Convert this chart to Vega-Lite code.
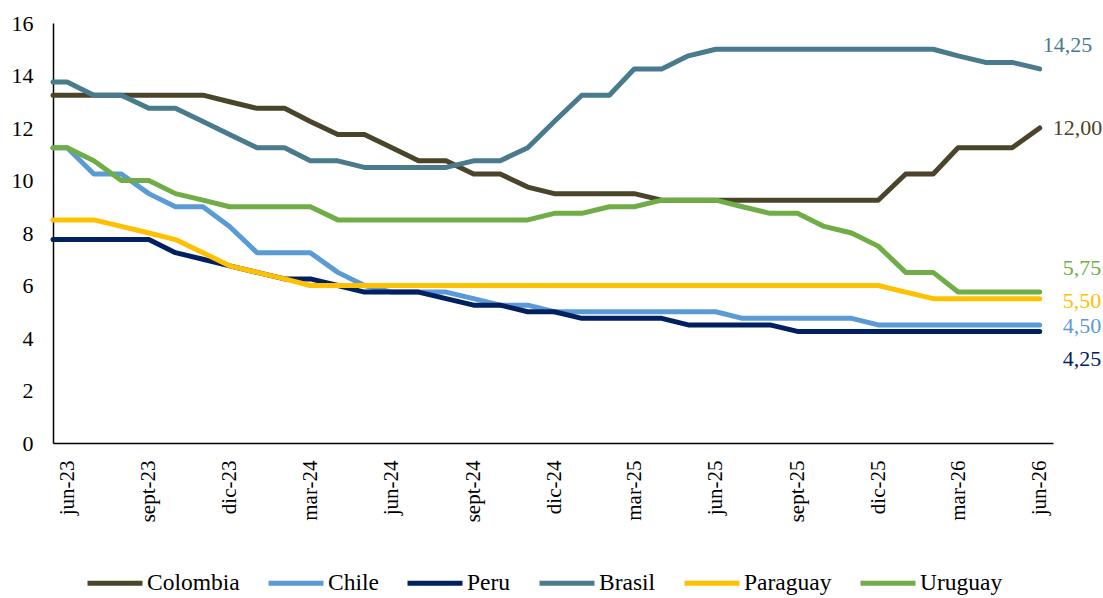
{
"$schema": "https://vega.github.io/schema/vega-lite/v6.json",
"width": 1000, "height": 420,
"autosize": {"type": "none"},
"padding": {"left": 53, "top": 23, "right": 50, "bottom": 155},
"background": "white",
"config": {
  "view": {"stroke": null},
  "font": "Liberation Serif",
  "locale": {"number": {"decimal": ",", "thousands": ".", "grouping": [3], "currency": ["", ""]}},
  "axisX": {"labelFont": "Liberation Serif", "labelFontSize": 21, "labelColor": "black", "labelAngle": 270, "labelPadding": 17, "ticks": false, "grid": false, "domainColor": "black", "domainWidth": 1.5, "title": null},
  "axisY": {"labelFont": "Liberation Serif", "labelFontSize": 22, "labelColor": "black", "labelPadding": 20, "ticks": false, "grid": false, "domainColor": "black", "domainWidth": 1.5, "title": null}
},
"data": {"format": {"parse": {"fecha": "utc:'%Y-%m-%d'"}}, "values": [
{"fecha":"2023-05-16","pais":"Colombia","tasa":13.25},
{"fecha":"2023-06-01","pais":"Colombia","tasa":13.25},
{"fecha":"2023-07-01","pais":"Colombia","tasa":13.25},
{"fecha":"2023-08-01","pais":"Colombia","tasa":13.25},
{"fecha":"2023-09-01","pais":"Colombia","tasa":13.25},
{"fecha":"2023-10-01","pais":"Colombia","tasa":13.25},
{"fecha":"2023-11-01","pais":"Colombia","tasa":13.25},
{"fecha":"2023-12-01","pais":"Colombia","tasa":13.0},
{"fecha":"2024-01-01","pais":"Colombia","tasa":12.75},
{"fecha":"2024-02-01","pais":"Colombia","tasa":12.75},
{"fecha":"2024-03-01","pais":"Colombia","tasa":12.25},
{"fecha":"2024-04-01","pais":"Colombia","tasa":11.75},
{"fecha":"2024-05-01","pais":"Colombia","tasa":11.75},
{"fecha":"2024-06-01","pais":"Colombia","tasa":11.25},
{"fecha":"2024-07-01","pais":"Colombia","tasa":10.75},
{"fecha":"2024-08-01","pais":"Colombia","tasa":10.75},
{"fecha":"2024-09-01","pais":"Colombia","tasa":10.25},
{"fecha":"2024-10-01","pais":"Colombia","tasa":10.25},
{"fecha":"2024-11-01","pais":"Colombia","tasa":9.75},
{"fecha":"2024-12-01","pais":"Colombia","tasa":9.5},
{"fecha":"2025-01-01","pais":"Colombia","tasa":9.5},
{"fecha":"2025-02-01","pais":"Colombia","tasa":9.5},
{"fecha":"2025-03-01","pais":"Colombia","tasa":9.5},
{"fecha":"2025-04-01","pais":"Colombia","tasa":9.25},
{"fecha":"2025-05-01","pais":"Colombia","tasa":9.25},
{"fecha":"2025-06-01","pais":"Colombia","tasa":9.25},
{"fecha":"2025-07-01","pais":"Colombia","tasa":9.25},
{"fecha":"2025-08-01","pais":"Colombia","tasa":9.25},
{"fecha":"2025-09-01","pais":"Colombia","tasa":9.25},
{"fecha":"2025-10-01","pais":"Colombia","tasa":9.25},
{"fecha":"2025-11-01","pais":"Colombia","tasa":9.25},
{"fecha":"2025-12-01","pais":"Colombia","tasa":9.25},
{"fecha":"2026-01-01","pais":"Colombia","tasa":10.25},
{"fecha":"2026-02-01","pais":"Colombia","tasa":10.25},
{"fecha":"2026-03-01","pais":"Colombia","tasa":11.25},
{"fecha":"2026-04-01","pais":"Colombia","tasa":11.25},
{"fecha":"2026-05-01","pais":"Colombia","tasa":11.25},
{"fecha":"2026-06-01","pais":"Colombia","tasa":12.0},

{"fecha":"2023-05-16","pais":"Chile","tasa":11.25},
{"fecha":"2023-06-01","pais":"Chile","tasa":11.25},
{"fecha":"2023-07-01","pais":"Chile","tasa":10.25},
{"fecha":"2023-08-01","pais":"Chile","tasa":10.25},
{"fecha":"2023-09-01","pais":"Chile","tasa":9.5},
{"fecha":"2023-10-01","pais":"Chile","tasa":9.0},
{"fecha":"2023-11-01","pais":"Chile","tasa":9.0},
{"fecha":"2023-12-01","pais":"Chile","tasa":8.25},
{"fecha":"2024-01-01","pais":"Chile","tasa":7.25},
{"fecha":"2024-02-01","pais":"Chile","tasa":7.25},
{"fecha":"2024-03-01","pais":"Chile","tasa":7.25},
{"fecha":"2024-04-01","pais":"Chile","tasa":6.5},
{"fecha":"2024-05-01","pais":"Chile","tasa":6.0},
{"fecha":"2024-06-01","pais":"Chile","tasa":5.75},
{"fecha":"2024-07-01","pais":"Chile","tasa":5.75},
{"fecha":"2024-08-01","pais":"Chile","tasa":5.75},
{"fecha":"2024-09-01","pais":"Chile","tasa":5.5},
{"fecha":"2024-10-01","pais":"Chile","tasa":5.25},
{"fecha":"2024-11-01","pais":"Chile","tasa":5.25},
{"fecha":"2024-12-01","pais":"Chile","tasa":5.0},
{"fecha":"2025-01-01","pais":"Chile","tasa":5.0},
{"fecha":"2025-02-01","pais":"Chile","tasa":5.0},
{"fecha":"2025-03-01","pais":"Chile","tasa":5.0},
{"fecha":"2025-04-01","pais":"Chile","tasa":5.0},
{"fecha":"2025-05-01","pais":"Chile","tasa":5.0},
{"fecha":"2025-06-01","pais":"Chile","tasa":5.0},
{"fecha":"2025-07-01","pais":"Chile","tasa":4.75},
{"fecha":"2025-08-01","pais":"Chile","tasa":4.75},
{"fecha":"2025-09-01","pais":"Chile","tasa":4.75},
{"fecha":"2025-10-01","pais":"Chile","tasa":4.75},
{"fecha":"2025-11-01","pais":"Chile","tasa":4.75},
{"fecha":"2025-12-01","pais":"Chile","tasa":4.5},
{"fecha":"2026-01-01","pais":"Chile","tasa":4.5},
{"fecha":"2026-02-01","pais":"Chile","tasa":4.5},
{"fecha":"2026-03-01","pais":"Chile","tasa":4.5},
{"fecha":"2026-04-01","pais":"Chile","tasa":4.5},
{"fecha":"2026-05-01","pais":"Chile","tasa":4.5},
{"fecha":"2026-06-01","pais":"Chile","tasa":4.5},

{"fecha":"2023-05-16","pais":"Peru","tasa":7.75},
{"fecha":"2023-06-01","pais":"Peru","tasa":7.75},
{"fecha":"2023-07-01","pais":"Peru","tasa":7.75},
{"fecha":"2023-08-01","pais":"Peru","tasa":7.75},
{"fecha":"2023-09-01","pais":"Peru","tasa":7.75},
{"fecha":"2023-10-01","pais":"Peru","tasa":7.25},
{"fecha":"2023-11-01","pais":"Peru","tasa":7.0},
{"fecha":"2023-12-01","pais":"Peru","tasa":6.75},
{"fecha":"2024-01-01","pais":"Peru","tasa":6.5},
{"fecha":"2024-02-01","pais":"Peru","tasa":6.25},
{"fecha":"2024-03-01","pais":"Peru","tasa":6.25},
{"fecha":"2024-04-01","pais":"Peru","tasa":6.0},
{"fecha":"2024-05-01","pais":"Peru","tasa":5.75},
{"fecha":"2024-06-01","pais":"Peru","tasa":5.75},
{"fecha":"2024-07-01","pais":"Peru","tasa":5.75},
{"fecha":"2024-08-01","pais":"Peru","tasa":5.5},
{"fecha":"2024-09-01","pais":"Peru","tasa":5.25},
{"fecha":"2024-10-01","pais":"Peru","tasa":5.25},
{"fecha":"2024-11-01","pais":"Peru","tasa":5.0},
{"fecha":"2024-12-01","pais":"Peru","tasa":5.0},
{"fecha":"2025-01-01","pais":"Peru","tasa":4.75},
{"fecha":"2025-02-01","pais":"Peru","tasa":4.75},
{"fecha":"2025-03-01","pais":"Peru","tasa":4.75},
{"fecha":"2025-04-01","pais":"Peru","tasa":4.75},
{"fecha":"2025-05-01","pais":"Peru","tasa":4.5},
{"fecha":"2025-06-01","pais":"Peru","tasa":4.5},
{"fecha":"2025-07-01","pais":"Peru","tasa":4.5},
{"fecha":"2025-08-01","pais":"Peru","tasa":4.5},
{"fecha":"2025-09-01","pais":"Peru","tasa":4.25},
{"fecha":"2025-10-01","pais":"Peru","tasa":4.25},
{"fecha":"2025-11-01","pais":"Peru","tasa":4.25},
{"fecha":"2025-12-01","pais":"Peru","tasa":4.25},
{"fecha":"2026-01-01","pais":"Peru","tasa":4.25},
{"fecha":"2026-02-01","pais":"Peru","tasa":4.25},
{"fecha":"2026-03-01","pais":"Peru","tasa":4.25},
{"fecha":"2026-04-01","pais":"Peru","tasa":4.25},
{"fecha":"2026-05-01","pais":"Peru","tasa":4.25},
{"fecha":"2026-06-01","pais":"Peru","tasa":4.25},

{"fecha":"2023-05-16","pais":"Brasil","tasa":13.75},
{"fecha":"2023-06-01","pais":"Brasil","tasa":13.75},
{"fecha":"2023-07-01","pais":"Brasil","tasa":13.25},
{"fecha":"2023-08-01","pais":"Brasil","tasa":13.25},
{"fecha":"2023-09-01","pais":"Brasil","tasa":12.75},
{"fecha":"2023-10-01","pais":"Brasil","tasa":12.75},
{"fecha":"2023-11-01","pais":"Brasil","tasa":12.25},
{"fecha":"2023-12-01","pais":"Brasil","tasa":11.75},
{"fecha":"2024-01-01","pais":"Brasil","tasa":11.25},
{"fecha":"2024-02-01","pais":"Brasil","tasa":11.25},
{"fecha":"2024-03-01","pais":"Brasil","tasa":10.75},
{"fecha":"2024-04-01","pais":"Brasil","tasa":10.75},
{"fecha":"2024-05-01","pais":"Brasil","tasa":10.5},
{"fecha":"2024-06-01","pais":"Brasil","tasa":10.5},
{"fecha":"2024-07-01","pais":"Brasil","tasa":10.5},
{"fecha":"2024-08-01","pais":"Brasil","tasa":10.5},
{"fecha":"2024-09-01","pais":"Brasil","tasa":10.75},
{"fecha":"2024-10-01","pais":"Brasil","tasa":10.75},
{"fecha":"2024-11-01","pais":"Brasil","tasa":11.25},
{"fecha":"2024-12-01","pais":"Brasil","tasa":12.25},
{"fecha":"2025-01-01","pais":"Brasil","tasa":13.25},
{"fecha":"2025-02-01","pais":"Brasil","tasa":13.25},
{"fecha":"2025-03-01","pais":"Brasil","tasa":14.25},
{"fecha":"2025-04-01","pais":"Brasil","tasa":14.25},
{"fecha":"2025-05-01","pais":"Brasil","tasa":14.75},
{"fecha":"2025-06-01","pais":"Brasil","tasa":15.0},
{"fecha":"2025-07-01","pais":"Brasil","tasa":15.0},
{"fecha":"2025-08-01","pais":"Brasil","tasa":15.0},
{"fecha":"2025-09-01","pais":"Brasil","tasa":15.0},
{"fecha":"2025-10-01","pais":"Brasil","tasa":15.0},
{"fecha":"2025-11-01","pais":"Brasil","tasa":15.0},
{"fecha":"2025-12-01","pais":"Brasil","tasa":15.0},
{"fecha":"2026-01-01","pais":"Brasil","tasa":15.0},
{"fecha":"2026-02-01","pais":"Brasil","tasa":15.0},
{"fecha":"2026-03-01","pais":"Brasil","tasa":14.75},
{"fecha":"2026-04-01","pais":"Brasil","tasa":14.5},
{"fecha":"2026-05-01","pais":"Brasil","tasa":14.5},
{"fecha":"2026-06-01","pais":"Brasil","tasa":14.25},

{"fecha":"2023-05-16","pais":"Paraguay","tasa":8.5},
{"fecha":"2023-06-01","pais":"Paraguay","tasa":8.5},
{"fecha":"2023-07-01","pais":"Paraguay","tasa":8.5},
{"fecha":"2023-08-01","pais":"Paraguay","tasa":8.25},
{"fecha":"2023-09-01","pais":"Paraguay","tasa":8.0},
{"fecha":"2023-10-01","pais":"Paraguay","tasa":7.75},
{"fecha":"2023-11-01","pais":"Paraguay","tasa":7.25},
{"fecha":"2023-12-01","pais":"Paraguay","tasa":6.75},
{"fecha":"2024-01-01","pais":"Paraguay","tasa":6.5},
{"fecha":"2024-02-01","pais":"Paraguay","tasa":6.25},
{"fecha":"2024-03-01","pais":"Paraguay","tasa":6.0},
{"fecha":"2024-04-01","pais":"Paraguay","tasa":6.0},
{"fecha":"2024-05-01","pais":"Paraguay","tasa":6.0},
{"fecha":"2024-06-01","pais":"Paraguay","tasa":6.0},
{"fecha":"2024-07-01","pais":"Paraguay","tasa":6.0},
{"fecha":"2024-08-01","pais":"Paraguay","tasa":6.0},
{"fecha":"2024-09-01","pais":"Paraguay","tasa":6.0},
{"fecha":"2024-10-01","pais":"Paraguay","tasa":6.0},
{"fecha":"2024-11-01","pais":"Paraguay","tasa":6.0},
{"fecha":"2024-12-01","pais":"Paraguay","tasa":6.0},
{"fecha":"2025-01-01","pais":"Paraguay","tasa":6.0},
{"fecha":"2025-02-01","pais":"Paraguay","tasa":6.0},
{"fecha":"2025-03-01","pais":"Paraguay","tasa":6.0},
{"fecha":"2025-04-01","pais":"Paraguay","tasa":6.0},
{"fecha":"2025-05-01","pais":"Paraguay","tasa":6.0},
{"fecha":"2025-06-01","pais":"Paraguay","tasa":6.0},
{"fecha":"2025-07-01","pais":"Paraguay","tasa":6.0},
{"fecha":"2025-08-01","pais":"Paraguay","tasa":6.0},
{"fecha":"2025-09-01","pais":"Paraguay","tasa":6.0},
{"fecha":"2025-10-01","pais":"Paraguay","tasa":6.0},
{"fecha":"2025-11-01","pais":"Paraguay","tasa":6.0},
{"fecha":"2025-12-01","pais":"Paraguay","tasa":6.0},
{"fecha":"2026-01-01","pais":"Paraguay","tasa":5.75},
{"fecha":"2026-02-01","pais":"Paraguay","tasa":5.5},
{"fecha":"2026-03-01","pais":"Paraguay","tasa":5.5},
{"fecha":"2026-04-01","pais":"Paraguay","tasa":5.5},
{"fecha":"2026-05-01","pais":"Paraguay","tasa":5.5},
{"fecha":"2026-06-01","pais":"Paraguay","tasa":5.5},

{"fecha":"2023-05-16","pais":"Uruguay","tasa":11.25},
{"fecha":"2023-06-01","pais":"Uruguay","tasa":11.25},
{"fecha":"2023-07-01","pais":"Uruguay","tasa":10.75},
{"fecha":"2023-08-01","pais":"Uruguay","tasa":10.0},
{"fecha":"2023-09-01","pais":"Uruguay","tasa":10.0},
{"fecha":"2023-10-01","pais":"Uruguay","tasa":9.5},
{"fecha":"2023-11-01","pais":"Uruguay","tasa":9.25},
{"fecha":"2023-12-01","pais":"Uruguay","tasa":9.0},
{"fecha":"2024-01-01","pais":"Uruguay","tasa":9.0},
{"fecha":"2024-02-01","pais":"Uruguay","tasa":9.0},
{"fecha":"2024-03-01","pais":"Uruguay","tasa":9.0},
{"fecha":"2024-04-01","pais":"Uruguay","tasa":8.5},
{"fecha":"2024-05-01","pais":"Uruguay","tasa":8.5},
{"fecha":"2024-06-01","pais":"Uruguay","tasa":8.5},
{"fecha":"2024-07-01","pais":"Uruguay","tasa":8.5},
{"fecha":"2024-08-01","pais":"Uruguay","tasa":8.5},
{"fecha":"2024-09-01","pais":"Uruguay","tasa":8.5},
{"fecha":"2024-10-01","pais":"Uruguay","tasa":8.5},
{"fecha":"2024-11-01","pais":"Uruguay","tasa":8.5},
{"fecha":"2024-12-01","pais":"Uruguay","tasa":8.75},
{"fecha":"2025-01-01","pais":"Uruguay","tasa":8.75},
{"fecha":"2025-02-01","pais":"Uruguay","tasa":9.0},
{"fecha":"2025-03-01","pais":"Uruguay","tasa":9.0},
{"fecha":"2025-04-01","pais":"Uruguay","tasa":9.25},
{"fecha":"2025-05-01","pais":"Uruguay","tasa":9.25},
{"fecha":"2025-06-01","pais":"Uruguay","tasa":9.25},
{"fecha":"2025-07-01","pais":"Uruguay","tasa":9.0},
{"fecha":"2025-08-01","pais":"Uruguay","tasa":8.75},
{"fecha":"2025-09-01","pais":"Uruguay","tasa":8.75},
{"fecha":"2025-10-01","pais":"Uruguay","tasa":8.25},
{"fecha":"2025-11-01","pais":"Uruguay","tasa":8.0},
{"fecha":"2025-12-01","pais":"Uruguay","tasa":7.5},
{"fecha":"2026-01-01","pais":"Uruguay","tasa":6.5},
{"fecha":"2026-02-01","pais":"Uruguay","tasa":6.5},
{"fecha":"2026-03-01","pais":"Uruguay","tasa":5.75},
{"fecha":"2026-04-01","pais":"Uruguay","tasa":5.75},
{"fecha":"2026-05-01","pais":"Uruguay","tasa":5.75},
{"fecha":"2026-06-01","pais":"Uruguay","tasa":5.75}
]},
"encoding": {
  "x": {"field": "fecha", "type": "temporal",
    "scale": {"type": "utc", "domain": [{"year": 2023, "month": 5, "date": 16, "utc": true}, {"year": 2026, "month": 6, "date": 16, "utc": true}]},
    "axis": {"values": [
      {"year": 2023, "month": 6, "date": 1, "utc": true},
      {"year": 2023, "month": 9, "date": 1, "utc": true},
      {"year": 2023, "month": 12, "date": 1, "utc": true},
      {"year": 2024, "month": 3, "date": 1, "utc": true},
      {"year": 2024, "month": 6, "date": 1, "utc": true},
      {"year": 2024, "month": 9, "date": 1, "utc": true},
      {"year": 2024, "month": 12, "date": 1, "utc": true},
      {"year": 2025, "month": 3, "date": 1, "utc": true},
      {"year": 2025, "month": 6, "date": 1, "utc": true},
      {"year": 2025, "month": 9, "date": 1, "utc": true},
      {"year": 2025, "month": 12, "date": 1, "utc": true},
      {"year": 2026, "month": 3, "date": 1, "utc": true},
      {"year": 2026, "month": 6, "date": 1, "utc": true}],
      "labelExpr": "['ene','feb','mar','abr','may','jun','jul','ago','sept','oct','nov','dic'][utcmonth(datum.value)] + '-' + utcFormat(datum.value, '%y')"}},
  "y": {"field": "tasa", "type": "quantitative", "scale": {"domain": [0, 16], "nice": false}, "axis": {"values": [0, 2, 4, 6, 8, 10, 12, 14, 16]}}
},
"layer": [
  {"mark": {"type": "line", "strokeWidth": 5, "strokeCap": "round", "strokeJoin": "round"},
   "encoding": {"color": {"field": "pais", "type": "nominal",
     "scale": {"domain": ["Colombia", "Chile", "Peru", "Brasil", "Paraguay", "Uruguay"], "range": ["#4a442a", "#5b9bd5", "#002060", "#4a7b8c", "#ffc000", "#70ad47"]},
     "legend": {"orient": "none", "legendX": 32, "legendY": 530, "direction": "horizontal", "columns": 6, "title": null, "symbolType": "stroke", "symbolSize": 3025, "symbolStrokeWidth": 5, "labelFont": "Liberation Serif", "labelFontSize": 23.5, "labelColor": "black", "columnPadding": 18, "labelOffset": 2}}}},
  {"transform": [{"filter": "datum.pais == 'Brasil' && utcyear(datum.fecha) == 2026 && utcmonth(datum.fecha) == 5"}],
   "mark": {"type": "text", "align": "left", "baseline": "middle", "dx": 3, "dy": -24, "font": "Liberation Serif", "fontSize": 22, "color": "#4a7b8c"},
   "encoding": {"text": {"field": "tasa", "type": "quantitative", "format": ".2f"}}},
  {"transform": [{"filter": "datum.pais == 'Colombia' && utcyear(datum.fecha) == 2026 && utcmonth(datum.fecha) == 5"}],
   "mark": {"type": "text", "align": "left", "baseline": "middle", "dx": 13, "dy": 0, "font": "Liberation Serif", "fontSize": 22, "color": "#4a442a"},
   "encoding": {"text": {"field": "tasa", "type": "quantitative", "format": ".2f"}}},
  {"transform": [{"filter": "datum.pais == 'Uruguay' && utcyear(datum.fecha) == 2026 && utcmonth(datum.fecha) == 5"}],
   "mark": {"type": "text", "align": "left", "baseline": "middle", "dx": 23, "dy": -24, "font": "Liberation Serif", "fontSize": 22, "color": "#70ad47"},
   "encoding": {"text": {"field": "tasa", "type": "quantitative", "format": ".2f"}}},
  {"transform": [{"filter": "datum.pais == 'Paraguay' && utcyear(datum.fecha) == 2026 && utcmonth(datum.fecha) == 5"}],
   "mark": {"type": "text", "align": "left", "baseline": "middle", "dx": 23, "dy": 2, "font": "Liberation Serif", "fontSize": 22, "color": "#ffc000"},
   "encoding": {"text": {"field": "tasa", "type": "quantitative", "format": ".2f"}}},
  {"transform": [{"filter": "datum.pais == 'Chile' && utcyear(datum.fecha) == 2026 && utcmonth(datum.fecha) == 5"}],
   "mark": {"type": "text", "align": "left", "baseline": "middle", "dx": 23, "dy": 1, "font": "Liberation Serif", "fontSize": 22, "color": "#5b9bd5"},
   "encoding": {"text": {"field": "tasa", "type": "quantitative", "format": ".2f"}}},
  {"transform": [{"filter": "datum.pais == 'Peru' && utcyear(datum.fecha) == 2026 && utcmonth(datum.fecha) == 5"}],
   "mark": {"type": "text", "align": "left", "baseline": "middle", "dx": 23, "dy": 28, "font": "Liberation Serif", "fontSize": 22, "color": "#002060"},
   "encoding": {"text": {"field": "tasa", "type": "quantitative", "format": ".2f"}}}
]
}
